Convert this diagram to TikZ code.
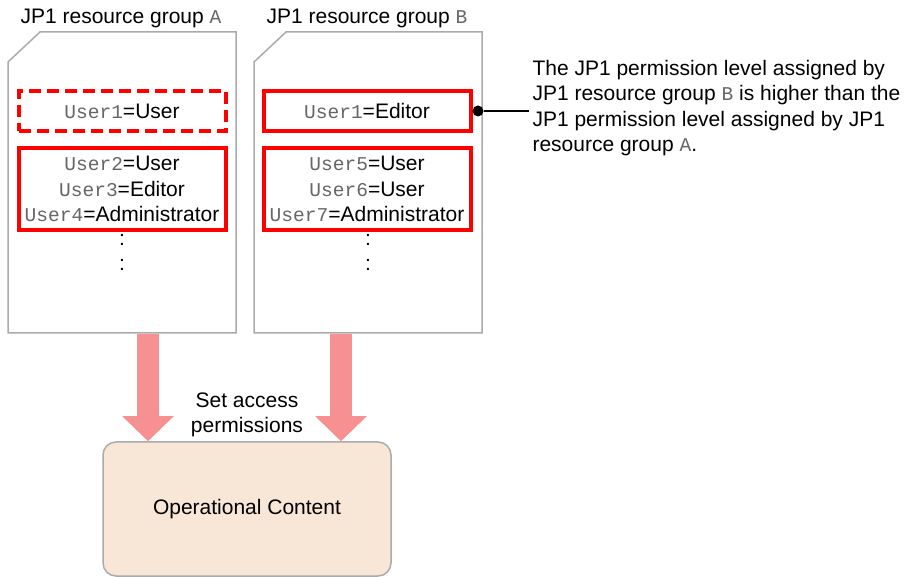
\documentclass[tikz,border=0pt]{standalone}
\usepackage{fontspec}
\setmainfont{Liberation Sans}
\setmonofont[Scale=0.93]{Liberation Mono}
\usetikzlibrary{arrows.meta}

\definecolor{docgray}{HTML}{ABABAB}
\definecolor{usrgray}{HTML}{666666}
\definecolor{arrowpink}{HTML}{F79191}
\definecolor{contentfill}{HTML}{F8E6D6}

\newcommand{\usr}[1]{{\color{usrgray}\ttfamily User#1}}
\newcommand{\grp}[1]{{\color{usrgray}\ttfamily #1}}

\begin{document}
\begin{tikzpicture}[x=1pt,y=-1pt,
  every node/.style={font=\fontsize{21}{25.5}\selectfont},
  doc/.style={draw=docgray,line width=1.5pt,fill=white},
  userbox/.style={draw=red,line width=4pt,minimum width=207pt,align=center,inner sep=0pt},
  fatarrow/.style={draw=arrowpink,line width=22pt,-{Triangle[width=50pt,length=25pt]}}]

  \useasboundingbox (0,0) rectangle (911,577);

  % resource groups
  \draw [doc] (8,62) -- (40,32) -- (236,32) -- (236,333) -- (8,333) -- cycle;
  \draw [doc] (254,62) -- (286,32) -- (482,32) -- (482,333) -- (254,333) -- cycle;

  \node (ta) at (121,18) {JP1 resource group \grp{A}};
  \node (tb) at (367,18) {JP1 resource group \grp{B}};

  \node (a1) at (122,111) [userbox,dash pattern=on 12pt off 6pt,minimum height=40pt] {\usr{1}=User};
  \node (a2) at (122,189) [userbox,minimum height=82pt] {\usr{2}=User\\\usr{3}=Editor\\\usr{4}=Administrator};
  \node (b1) at (367,111) [userbox,minimum height=40pt] {\usr{1}=Editor};
  \node (b2) at (367,189) [userbox,minimum height=82pt] {\usr{5}=User\\\usr{6}=User\\\usr{7}=Administrator};

  \node (da1) at (122,240) {:};
  \node (da2) at (122,265) {:};
  \node (db1) at (368,240) {:};
  \node (db2) at (368,265) {:};

  % note on B
  \node (dot) at (478,111) [circle,fill=black,inner sep=0pt,minimum size=11pt] {};
  \node (note) at (529,108) [anchor=west,align=left] {The JP1 permission level assigned by\\JP1 resource group \grp{B} is higher than the\\JP1 permission level assigned by JP1\\resource group \grp{A}.};
  \draw [line width=1.5pt] (dot) -- (dot -| note.west);

  % content
  \node (content) at (247,509) [draw=docgray,line width=1.5pt,fill=contentfill,rounded corners=13pt,minimum width=288pt,minimum height=134pt] {Operational Content};
  \node (setp) at (247,415) [align=center] {Set access\\permissions};

  \coordinate (fa) at (148,334);
  \coordinate (fb) at (341,334);
  \draw [fatarrow] (fa) -- (fa |- content.north);
  \draw [fatarrow] (fb) -- (fb |- content.north);

\end{tikzpicture}
\end{document}
